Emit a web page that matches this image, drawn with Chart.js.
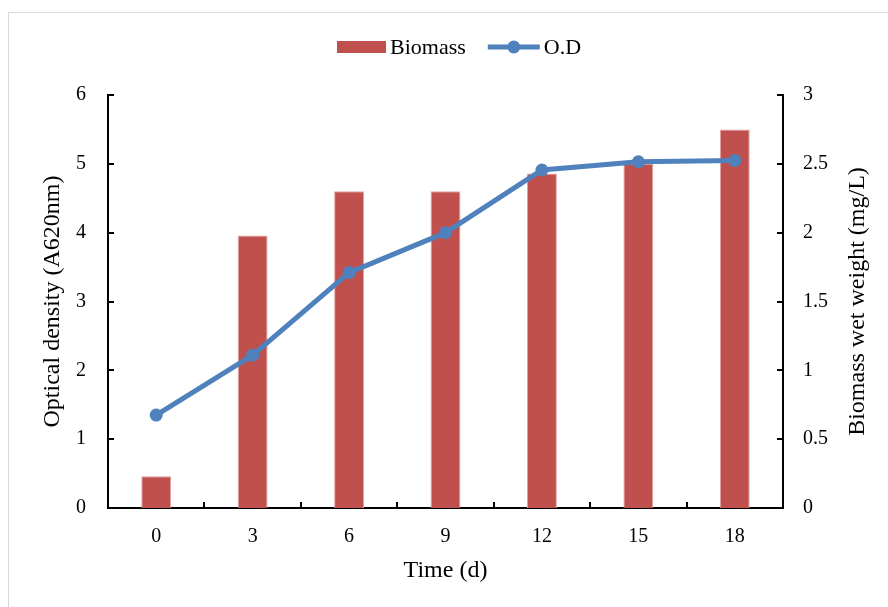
<!DOCTYPE html>
<html>
<head>
<meta charset="utf-8">
<title>Biomass and O.D over time</title>
<script src="https://cdn.jsdelivr.net/npm/chart.js@4/dist/chart.umd.min.js"></script>
<style>
  html, body { margin: 0; padding: 0; background: #fff; overflow: hidden; }
  #frame { position: absolute; left: 8px; top: 12px; width: 900px; height: 620px; border: 1px solid #d9d9d9; }
  #chart { position: absolute; left: 0; top: 0; }
</style>
</head>
<body>
<div id="frame"></div>
<canvas id="chart" width="888" height="607"></canvas>
<script>
/* ============================================================
   growth chart - biomass (bars, right axis) and O.D (line, left axis)
   ============================================================ */

const DAYS = ["0", "3", "6", "9", "12", "15", "18"];
const BIOMASS = [0.23, 1.98, 2.30, 2.30, 2.43, 2.50, 2.75];
const OD = [1.35, 2.22, 3.42, 4.00, 4.91, 5.03, 5.05];
const OD_TICKS = { min: 0, max: 6, step: 1 };
const BIOMASS_TICKS = { min: 0, max: 3, step: 0.5 };

const FONT = "'Liberation Serif', 'Times New Roman', serif";
const BAR_COLOR = "#C0504D";
const LINE_COLOR = "#4F81BD";

Chart.defaults.color = "#000";
Chart.defaults.font.family = FONT;

// Excel style legend, right axis title and inner tick marks
const excelBits = {
  id: "excelBits",
  afterDraw(chart) {
    const ctx = chart.ctx;
    const area = chart.chartArea;
    const x = chart.scales.x, y = chart.scales.y, y1 = chart.scales.y1;
    ctx.save();

    // inner tick marks
    ctx.strokeStyle = "#000";
    ctx.lineWidth = 2;
    ctx.beginPath();
    y.ticks.forEach(function(t) {
      const py = Math.round(y.getPixelForValue(t.value));
      ctx.moveTo(area.left, py);
      ctx.lineTo(area.left + 6, py);
    });
    y1.ticks.forEach(function(t) {
      const py = Math.round(y1.getPixelForValue(t.value));
      ctx.moveTo(area.right, py);
      ctx.lineTo(area.right - 6, py);
    });
    for (let i = 1; i < DAYS.length; i++) {
      const px = Math.round(x.getPixelForValue(i - 0.5));
      ctx.moveTo(px, area.bottom);
      ctx.lineTo(px, area.bottom - 6);
    }
    ctx.stroke();

    // right axis title, reads bottom to top like the left one
    ctx.font = "24px " + FONT;
    ctx.fillStyle = "#000";
    ctx.textAlign = "center";
    ctx.textBaseline = "middle";
    ctx.translate(858, (area.top + area.bottom) / 2);
    ctx.rotate(-Math.PI / 2);
    ctx.fillText("Biomass wet weight (mg/L)", 0, 0);
    ctx.setTransform(1, 0, 0, 1, 0, 0);

    // legend
    const ly = 47;
    let lx = 337;
    const bars = chart.data.datasets[1];
    const line = chart.data.datasets[0];
    ctx.font = "22px " + FONT;
    ctx.textAlign = "left";
    ctx.fillStyle = bars.backgroundColor;
    ctx.fillRect(lx, ly - 6, 49, 12);
    lx += 53;
    ctx.fillStyle = "#000";
    ctx.fillText(bars.label, lx, ly + 1);
    lx += ctx.measureText(bars.label).width + 22;
    ctx.strokeStyle = line.borderColor;
    ctx.lineWidth = 5;
    ctx.beginPath();
    ctx.moveTo(lx, ly);
    ctx.lineTo(lx + 52, ly);
    ctx.stroke();
    ctx.fillStyle = line.borderColor;
    ctx.beginPath();
    ctx.arc(lx + 26, ly, 6.5, 0, Math.PI * 2);
    ctx.fill();
    lx += 56;
    ctx.fillStyle = "#000";
    ctx.fillText(line.label, lx, ly + 1);

    ctx.restore();
  },
};

new Chart(document.getElementById("chart"), {
  type: "bar",
  data: {
    labels: DAYS,
    datasets: [
      {
        type: "line",
        label: "O.D",
        data: OD,
        yAxisID: "y",
        borderColor: LINE_COLOR,
        backgroundColor: LINE_COLOR,
        borderWidth: 5,
        pointRadius: 6.5,
        pointBorderWidth: 0,
        pointBackgroundColor: LINE_COLOR,
        tension: 0,
        order: 0,
      },
      {
        type: "bar",
        label: "Biomass",
        data: BIOMASS,
        yAxisID: "y1",
        backgroundColor: BAR_COLOR,
        borderColor: "#E2A3A1",
        borderWidth: 1,
        barPercentage: 0.31,
        categoryPercentage: 1,
        order: 1,
      },
    ],
  },
  options: {
    responsive: false,
    animation: false,
    layout: { padding: { top: 95, left: 24, right: 0, bottom: 0 } },
    plugins: { legend: { display: false }, tooltip: { enabled: false } },
    scales: {
      x: {
        type: "category",
        offset: true,
        grid: { display: false, drawTicks: false },
        border: { display: true, color: "#000", width: 2 },
        ticks: { font: { size: 20 }, padding: 17, maxRotation: 0 },
        title: { display: true, text: "Time (d)", font: { size: 24 }, padding: { top: 0, bottom: 22 } },
        afterFit(scale) { scale.height = 99; },
      },
      y: {
        position: "left",
        min: OD_TICKS.min,
        max: OD_TICKS.max,
        grid: { display: false, drawTicks: false },
        border: { display: true, color: "#000", width: 2 },
        ticks: { stepSize: OD_TICKS.step, font: { size: 20 }, padding: 22 },
        title: { display: true, text: "Optical density (A620nm)", font: { size: 24 }, padding: { top: 14, bottom: 0 } },
        afterFit(scale) { scale.width = 84; },
      },
      y1: {
        position: "right",
        min: BIOMASS_TICKS.min,
        max: BIOMASS_TICKS.max,
        grid: { display: false, drawTicks: false },
        border: { display: true, color: "#000", width: 2 },
        ticks: {
          stepSize: BIOMASS_TICKS.step,
          font: { size: 20 },
          padding: 20,
          callback: function(value) { return String(value); },
        },
        afterFit(scale) { scale.width = 105; },
      },
    },
  },
  plugins: [excelBits],
});
</script>
</body>
</html>
